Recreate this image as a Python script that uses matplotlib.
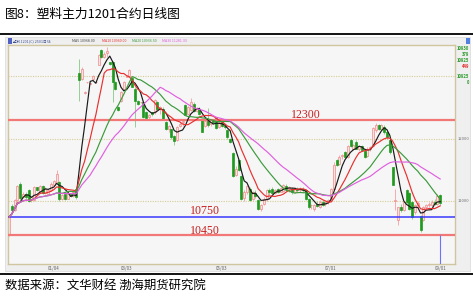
import matplotlib
matplotlib.use("Agg")
import matplotlib.pyplot as plt
from matplotlib.lines import Line2D
from matplotlib.patches import Rectangle
import numpy as np
import pandas as pd

plt.rcParams['font.family'] = ['Noto Sans CJK SC', 'DejaVu Sans']

# ---- data (daily OHLC) ----
opens = [10460, 10920, 10850, 11010, 11280, 11060, 11120, 11180, 11010, 11010,
         11220, 11150, 11240, 11130, 11120, 11170, 11260, 11300, 11300, 11030,
         11110, 11040, 11110, 11080, 11200, 13050, 12950, 12730, 12900, 12880,
         12950, 12900, 13180, 13420, 13300, 13370, 13220, 13220, 12900, 12500,
         12600, 12800, 12990, 13000, 12970, 12800, 12600, 12580, 12580, 12420,
         12340, 12420, 12420, 12580, 12470, 12480, 12260, 12160, 12150, 12040,
         11980, 12200, 12260, 12540, 12400, 12450, 12560, 12440, 12480, 12300,
         12200, 12300, 12230, 12300, 12330, 12180, 12260, 12200, 12140, 12000,
         11770, 11420, 11650, 11400, 11050, 11150, 11200, 11030, 11130, 11020,
         10880, 10950, 11030, 11180, 11200, 11130, 11190, 11150, 11160, 11240,
         11190, 11200, 11140, 11200, 11170, 11200, 11170, 11030, 10930, 10880,
         10950, 10910, 10990, 10950, 10980, 11000, 11200, 11650, 11600, 11720,
         11780, 11700, 11980, 11830, 11950, 11840, 11880, 11800, 11720, 11830,
         11880, 12130, 12210, 12150, 12190, 12100, 11980, 11540, 11000, 10700,
         10900, 10860, 11170, 11130, 10990, 10820, 10930, 10760, 10700, 10900,
         10940, 10930, 10980, 10950, 11100]
highs = [10760, 10960, 11030, 11260, 11300, 11140, 11140, 11190, 11080, 11240,
         11230, 11260, 11250, 11220, 11200, 11300, 11340, 11500, 11320, 11120,
         11120, 11140, 11120, 11160, 11210, 13280, 13150, 12760, 12910, 12890,
         13010, 12910, 13360, 13440, 13380, 13460, 13230, 13240, 12920, 12520,
         12760, 12920, 13010, 13120, 12990, 12820, 12620, 12590, 12600, 12440,
         12400, 12430, 12640, 12600, 12520, 12500, 12280, 12220, 12160, 12060,
         12200, 12260, 12300, 12560, 12520, 12650, 12580, 12500, 12500, 12320,
         12290, 12490, 12310, 12320, 12350, 12290, 12280, 12230, 12160, 12010,
         11780, 11560, 11670, 11410, 11180, 11260, 11220, 11160, 11180, 11030,
         10960, 11060, 11200, 11210, 11230, 11200, 11210, 11230, 11280, 11280,
         11240, 11220, 11220, 11230, 11220, 11220, 11190, 11050, 10960, 10960,
         11000, 11010, 11020, 11000, 11030, 11210, 11620, 11680, 11730, 11760,
         11800, 11900, 12000, 11920, 11980, 11900, 11900, 11820, 11860, 11880,
         12190, 12250, 12240, 12230, 12210, 12130, 11990, 11550, 11200, 10910,
         10960, 11000, 11190, 11150, 11000, 10950, 11000, 10780, 10920, 10960,
         10980, 11010, 11030, 11120, 11120]
lows = [10440, 10790, 10840, 10990, 11020, 11050, 11040, 10980, 10980, 11000,
        11160, 11140, 11110, 11120, 11100, 11160, 11250, 11290, 11000, 11020,
        11020, 11030, 11060, 11070, 11040, 12600, 12930, 12720, 12890, 12870,
        12940, 12890, 13170, 13290, 13290, 13300, 13180, 12580, 12780, 12440,
        12580, 12780, 12980, 12980, 12820, 12180, 12540, 12570, 12330, 12320,
        12300, 12360, 12400, 12460, 12400, 12300, 12130, 12100, 12000, 11900,
        11960, 12180, 12200, 12370, 12380, 12440, 12420, 12420, 12380, 12100,
        12180, 12190, 12200, 12240, 12160, 12170, 12180, 12150, 12000, 11930,
        11380, 11400, 11480, 11020, 11000, 11120, 11000, 11020, 11050, 10850,
        10840, 10930, 11000, 11100, 11120, 11110, 11130, 11140, 11150, 11170,
        11150, 11120, 11130, 11150, 11140, 11150, 11020, 10880, 10880, 10840,
        10900, 10890, 10920, 10920, 10950, 10990, 11190, 11560, 11580, 11680,
        11690, 11690, 11860, 11810, 11830, 11800, 11800, 11690, 11700, 11800,
        11870, 12110, 12130, 12130, 12080, 12000, 11760, 11250, 10860, 10610,
        10820, 10840, 10960, 10850, 10720, 10800, 10900, 10500, 10680, 10880,
        10900, 10900, 10940, 10930, 10940]
closes = [10740, 10850, 11020, 11240, 11050, 11120, 11060, 11000, 11060, 11220,
          11180, 11240, 11130, 11200, 11180, 11280, 11320, 11430, 11030, 11100,
          11040, 11120, 11080, 11140, 11060, 12930, 13120, 12740, 12900, 12880,
          13000, 12900, 13340, 13300, 13360, 13400, 13190, 12900, 12800, 12460,
          12750, 12900, 13000, 13100, 12830, 12600, 12560, 12580, 12340, 12330,
          12380, 12390, 12620, 12480, 12500, 12310, 12150, 12200, 12020, 11960,
          12180, 12240, 12280, 12380, 12500, 12580, 12440, 12480, 12400, 12110,
          12280, 12220, 12290, 12260, 12170, 12270, 12200, 12180, 12020, 11950,
          11400, 11520, 11500, 11040, 11150, 11240, 11020, 11140, 11080, 10870,
          10940, 11040, 11180, 11140, 11130, 11180, 11150, 11210, 11260, 11200,
          11220, 11140, 11200, 11180, 11200, 11170, 11030, 10900, 10940, 10940,
          10920, 10990, 10940, 10980, 11010, 11200, 11580, 11580, 11700, 11740,
          11700, 11880, 11880, 11900, 11840, 11880, 11820, 11700, 11840, 11860,
          12170, 12220, 12150, 12210, 12100, 12020, 11780, 11260, 11010, 10900,
          10850, 10980, 10980, 10870, 10740, 10930, 10970, 10530, 10900, 10940,
          10950, 10990, 10960, 11080, 10970]

date_labels = ["01/04", "03/03", "05/03", "07/01", "09/01"]
date_index = [16, 42, 76, 115, 154]

ma_periods = [5, 10, 20, 30]
ma_colors = ['#1a1a1a', '#e83030', '#3c9a3c', '#e060e0']
legend_labels = ["MA5 10968.00", "MA10 10960.00", "MA20 10936.50", "MA30 11281.33"]

level_values = [12300, 10750, 10450]
level_colors = ['#f27878', '#3a3aff', '#f27878']
level_texts = ["12300", "10750", "10450"]

# ---- figure ----
W, H = 473, 297
fig = plt.figure(figsize=(W / 100, H / 100), dpi=100)
fig.patch.set_facecolor('white')

def fx(px):
    return px / W

def fy(py):
    return 1 - py / H

fig.text(fx(5), fy(14), "图8：塑料主力1201合约日线图", fontsize=9.2, va='center', ha='left', color='black')
fig.add_artist(Line2D([0, 1], [fy(33.5), fy(33.5)], color='black', lw=1.3))
fig.add_artist(Line2D([0, 1], [fy(273.5), fy(273.5)], color='black', lw=1.3))
fig.text(fx(5), fy(285), "数据来源：文华财经 渤海期货研究院", fontsize=8.9, va='center', ha='left', color='black')

# outer panel
fig.add_artist(Rectangle((fx(5), fy(271)), fx(470) - fx(5), fy(37) - fy(271),
                         transform=fig.transFigure, facecolor='#efefef', edgecolor='#d8d8d8', lw=0.5, zorder=0))
# header texts
fig.add_artist(Rectangle((fx(8), fy(44)), fx(4), fy(38) - fy(44), transform=fig.transFigure,
                         facecolor='#5060c0', edgecolor='none'))
fig.text(fx(13), fy(41), "塑料1201(C) 2501日线", fontsize=2.7, color='#405090', va='center')
hx = [72, 102, 132, 162]
for x0, lab, col in zip(hx, legend_labels, ['#444444', '#e83030', '#3c9a3c', '#e060e0']):
    fig.text(fx(x0), fy(41), lab, fontsize=2.6, color=col, va='center')

# right info panel
info = [("10930", '#2a9a2a', 48), ("379", '#2a9a2a', 54), ("10925", '#2a9a2a', 60),
        ("449", '#e03030', 66), ("10925", '#2a9a2a', 77), ("0", '#2a9a2a', 83)]
for t, c, yy in info:
    fig.text(fx(469), fy(yy), t, fontsize=3.0, color=c, ha='right', va='center', fontweight='bold')
fig.add_artist(Rectangle((fx(466), fy(44)), fx(4), fy(38) - fy(44), transform=fig.transFigure,
                         facecolor='#5080e0', edgecolor='none'))

ax = fig.add_axes([fx(8), fy(264), fx(455) - fx(8), fy(45) - fy(264)])
ax.set_facecolor('#f6f6f6')
for s in ax.spines.values():
    s.set_color('#cfc6a0')
    s.set_linewidth(1.0)

n = len(closes)
idx = np.arange(n)
o = np.array(opens, float)
h = np.array(highs, float)
l = np.array(lows, float)
c = np.array(closes, float)
up = c >= o

# wicks
ax.vlines(idx[up], l[up], h[up], color='#f0a0a0', lw=0.6, zorder=2)
ax.vlines(idx[~up], l[~up], h[~up], color='#86c886', lw=0.6, zorder=2)
# bodies
body_bottom = np.minimum(o, c)
body_h = np.maximum(np.abs(c - o), 12)
ax.bar(idx[up], body_h[up], bottom=body_bottom[up], width=0.72,
       facecolor='#fbe2e2', edgecolor='#f08a8a', lw=0.5, zorder=2.5)
ax.bar(idx[~up], body_h[~up], bottom=body_bottom[~up], width=0.72,
       facecolor='#1f9a1f', edgecolor='#1f9a1f', lw=0.5, zorder=2.5)

# moving averages
s = pd.Series(c)
for p, col in zip(ma_periods, ma_colors):
    ma = s.rolling(p, min_periods=1).mean()
    ax.plot(idx, ma, color=col, lw=0.85, zorder=4)

# grid lines
for gv in [13000, 12000, 11000]:
    ax.axhline(gv, color='#d6cd98', lw=0.8, ls=(0, (1, 1.2)), zorder=1)

# level lines
for v, col in zip(level_values, level_colors):
    ax.axhline(v, color=col, lw=1.6 if col != '#3a3aff' else 1.1, zorder=3)
ax.text(106, 12376, level_texts[0], fontsize=8.6, color='#c82020', family='Liberation Serif',
        ha='center', va='center', zorder=5)
ax.text(70, 10832, level_texts[1], fontsize=8.6, color='#c82020', family='Liberation Serif',
        ha='center', va='center', zorder=5)
ax.text(70, 10528, level_texts[2], fontsize=8.6, color='#c82020', family='Liberation Serif',
        ha='center', va='center', zorder=5)

ax.set_ylim(9992, 13496)
ax.set_xlim(-0.36, 159.3)
ax.vlines(153.8, 9992, 10450, color='#7070ff', lw=0.8, zorder=3)

ax.set_xticks(date_index)
ax.set_xticklabels(date_labels, fontsize=3.2, color='#606060')
ax.tick_params(axis='x', length=0, pad=1.5)
ax.yaxis.tick_right()
ax.set_yticks([12000, 11000])
ax.set_yticklabels(["12000", "11000"], fontsize=3.0, color='#707070')
ax.tick_params(axis='y', length=0, pad=2)

fig.savefig("out.png", dpi=100)
